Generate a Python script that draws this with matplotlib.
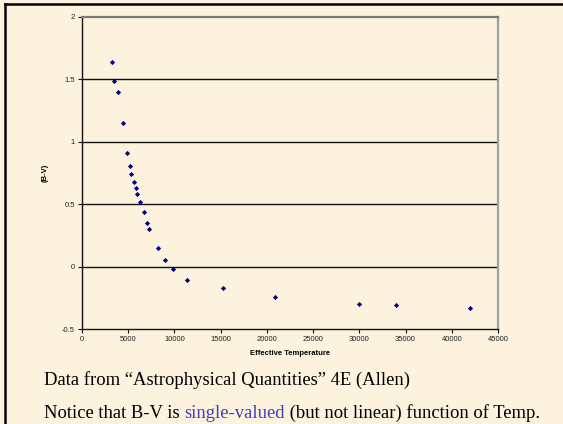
import matplotlib.pyplot as plt
from matplotlib.lines import Line2D

# B-V colour index vs effective temperature
temps = [3200, 3500, 3850, 4400, 4850, 5150, 5300, 5600, 5800, 5950, 6250,
         6700, 7000, 7300, 8200, 9000, 9800, 11400, 15200, 20900, 30000,
         34000, 42000]
bv = [1.64, 1.49, 1.40, 1.15, 0.91, 0.81, 0.74, 0.68, 0.63, 0.58, 0.52,
      0.44, 0.35, 0.30, 0.15, 0.05, -0.02, -0.11, -0.17, -0.24, -0.30,
      -0.31, -0.33]

x_ticks = list(range(0, 45001, 5000))
y_ticks = [-0.5, 0, 0.5, 1, 1.5, 2]
y_tick_labels = ['-0.5', '0', '0.5', '1', '1.5', '2']

bg = '#fcf2de'
W, H = 563, 424

fig = plt.figure(figsize=(W / 100, H / 100), dpi=100, facecolor=bg)
ax = fig.add_axes([82 / W, 1 - 329 / H, 416 / W, 312 / H])
ax.set_facecolor(bg)

# gridlines at the major y ticks, except the top edge
for y in y_ticks[1:-1]:
    ax.axhline(y, color='#111111', lw=1.0, zorder=1)

ax.scatter(temps, bv, marker='D', s=7, color='#000080', lw=0, zorder=3)

ax.set_xlim(0, 45000)
ax.set_ylim(-0.5, 2)
ax.set_xticks(x_ticks)
ax.set_xticklabels([str(t) for t in x_ticks])
ax.set_yticks(y_ticks)
ax.set_yticklabels(y_tick_labels)

tick_font = dict(family='Liberation Sans', size=5.5)
for lab in ax.get_xticklabels() + ax.get_yticklabels():
    lab.set_fontfamily(tick_font['family'])
    lab.set_fontsize(tick_font['size'])
    lab.set_color('#222222')
ax.tick_params(axis='both', length=3, width=0.8, pad=2, color='#111111')

ax.spines['left'].set_color('#111111')
ax.spines['bottom'].set_color('#111111')
ax.spines['left'].set_linewidth(1.0)
ax.spines['bottom'].set_linewidth(1.0)
ax.spines['top'].set_color('#7a7a7a')
ax.spines['right'].set_color('#a0a0a0')
ax.spines['top'].set_linewidth(1.6)
ax.spines['right'].set_linewidth(1.6)

ax.set_xlabel('Effective Temperature', fontfamily='Liberation Sans',
              fontsize=5.5, fontweight='bold', labelpad=5)
ax.set_ylabel('(B-V)', fontfamily='Liberation Sans', fontsize=5.5,
              fontweight='bold', labelpad=10)

# slide text below the chart
serif = dict(family='Liberation Serif', size=13.4)
fig.text(44 / W, 1 - 380 / H, 'Data from \u201cAstrophysical Quantities\u201d 4E (Allen)',
         va='center', ha='left', fontfamily=serif['family'],
         fontsize=serif['size'], color='black')

t1 = fig.text(44 / W, 1 - 413 / H, 'Notice that B-V is ', va='center', ha='left',
              fontfamily=serif['family'], fontsize=serif['size'], color='black')
t2 = fig.text(0, 0, 'single-valued', fontfamily=serif['family'],
              fontsize=serif['size'], color='#3f3fbf')
t3 = fig.text(0, 0, ' (but not linear) function of Temp.',
              fontfamily=serif['family'], fontsize=serif['size'], color='black')

# chain the pieces of the sentence one after another
fig.canvas.draw()
r = fig.canvas.get_renderer()
inv = fig.transFigure.inverted()
bb1 = t1.get_window_extent(r)
x0, y0 = inv.transform((bb1.x1, bb1.y0))
t2.set_position((x0, y0))
t2.set_va('bottom')
bb2 = t2.get_window_extent(r)
x1, _ = inv.transform((bb2.x1, bb2.y0))
t3.set_position((x1, y0))
t3.set_va('bottom')

# dark slide border on top and left
fig.add_artist(Line2D([5 / W, 5 / W], [0, 1 - 4 / H], color='black', lw=1.8,
                      transform=fig.transFigure))
fig.add_artist(Line2D([5 / W, 1], [1 - 4 / H, 1 - 4 / H], color='black', lw=1.8,
                      transform=fig.transFigure))

fig.savefig('out.png', dpi=100, facecolor=bg)
